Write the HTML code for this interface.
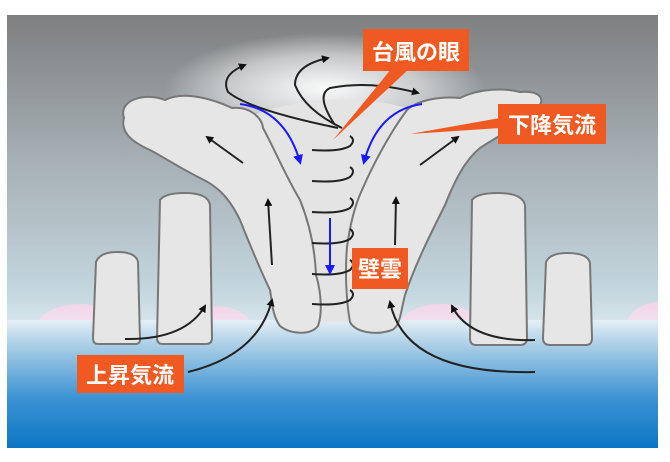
<!DOCTYPE html>
<html><head><meta charset="utf-8"><style>
html,body{margin:0;padding:0;background:#fff;width:670px;height:462px;overflow:hidden}
svg{display:block}
text{font-family:"Liberation Sans","Noto Sans CJK JP",sans-serif;fill:#fff;font-weight:bold}
</style></head><body>
<svg width="670" height="462" viewBox="0 0 670 462" xmlns="http://www.w3.org/2000/svg">
<defs>
<clipPath id="img"><rect x="7" y="15" width="651" height="433"/></clipPath>
<clipPath id="above"><rect x="0" y="0" width="670" height="322"/></clipPath>
<linearGradient id="sky" x1="0" y1="0" x2="0" y2="1">
<stop offset="0" stop-color="#7e7f80"/><stop offset="0.45" stop-color="#a4adb2"/><stop offset="0.9" stop-color="#c3d6dd"/><stop offset="1" stop-color="#d4e4ea"/>
</linearGradient>
<linearGradient id="sea" x1="0" y1="0" x2="0" y2="1">
<stop offset="0" stop-color="#e4eff6"/><stop offset="0.2" stop-color="#a9cde6"/><stop offset="0.6" stop-color="#3c93d3"/><stop offset="1" stop-color="#0a74c4"/>
</linearGradient>
<radialGradient id="glow" cx="0.5" cy="0.5" r="0.5">
<stop offset="0" stop-color="#fff" stop-opacity="0.95"/><stop offset="0.6" stop-color="#fff" stop-opacity="0.5"/><stop offset="1" stop-color="#fff" stop-opacity="0"/>
</radialGradient>
<linearGradient id="pink" x1="0" y1="0" x2="0" y2="1">
<stop offset="0" stop-color="#f3d6e8"/><stop offset="1" stop-color="#eef1f6"/>
</linearGradient>
<marker id="ah" markerWidth="8" markerHeight="8" refX="6" refY="4" orient="auto" markerUnits="userSpaceOnUse"><path d="M0,0 L8,4 L0,8 Z" fill="#111"/></marker>
<marker id="bh" markerWidth="10" markerHeight="10" refX="7" refY="5" orient="auto" markerUnits="userSpaceOnUse"><path d="M0,0 L10,5 L0,10 Z" fill="#1a1aff"/></marker>
</defs>
<g clip-path="url(#img)">
<rect x="7" y="15" width="652" height="305" fill="url(#sky)"/>
<g clip-path="url(#above)" fill="url(#pink)">
<ellipse cx="80" cy="330" rx="45" ry="26"/><ellipse cx="215" cy="330" rx="38" ry="24"/>
<ellipse cx="440" cy="330" rx="42" ry="26"/><ellipse cx="660" cy="330" rx="35" ry="28"/>
</g>
<rect x="7" y="320" width="652" height="130" fill="url(#sea)"/>
<ellipse cx="325" cy="88" rx="160" ry="55" fill="url(#glow)"/>
</g>
<path d="M245,118 Q330,85 415,110 Q365,180 350,250 L352,322 L318,322 Q310,250 300,200 Q275,150 245,118Z" fill="#e4e4e4"/>
<path d="M124,118 C118,100 145,92 165,100 C185,90 215,100 232,108 C250,106 262,118 263,128 C275,150 285,175 300,200 C310,225 315,250 316,275 C322,295 322,315 318,326 C310,336 290,334 280,326 C272,315 272,300 270,290 C258,265 248,240 240,220 C228,195 215,185 200,178 C180,168 165,158 150,150 C132,142 120,132 124,118Z" fill="#e6e6e6" stroke="#777" stroke-width="2"/>
<path d="M407,110 C418,100 440,96 460,98 C480,88 505,88 520,92 C540,90 548,100 535,110 C520,125 500,135 480,148 C465,160 455,180 445,205 C430,235 415,265 405,295 C400,315 400,326 392,330 C375,336 355,332 350,322 C346,300 345,270 347,247 C350,225 355,205 362,190 C375,160 392,130 407,110Z" fill="#e6e6e6" stroke="#777" stroke-width="2"/>
<g fill="#e6e6e6" stroke="#777" stroke-width="2">
<path d="M96,262 Q100,252 117,252 Q136,252 138,262 L140,340 Q140,344 135,344 L98,344 Q93,344 93,338 Z"/>
<path d="M160,200 Q165,193 185,193 Q208,193 210,205 L212,338 Q212,344 206,344 L163,344 Q157,344 157,338 Z"/>
<path d="M472,200 Q477,193 498,193 Q522,193 525,205 L527,338 Q527,345 520,345 L476,345 Q470,345 470,338 Z"/>
<path d="M546,262 Q550,253 567,253 Q588,253 590,263 L592,338 Q592,345 586,345 L550,345 Q543,345 543,338 Z"/>
</g>
<g fill="none" stroke="#222" stroke-width="2">
<path d="M312,150 Q340,152 350,146 Q356,140 350,136"/>
<path d="M312,181 Q340,183 350,177 Q356,171 350,167"/>
<path d="M312,212 Q340,214 350,208 Q356,202 350,198"/>
<path d="M312,243 Q340,245 350,239 Q356,233 350,229"/>
<path d="M312,274 Q340,276 350,270 Q356,264 350,260"/>
<path d="M312,304 Q340,306 350,300 Q356,294 350,290"/>
</g>
<g fill="none" stroke="#222" stroke-width="2" marker-end="url(#ah)">
<path d="M338,128 Q250,110 228,92 Q220,75 245,65"/>
<path d="M342,128 Q305,110 295,85 Q295,65 328,58"/>
<path d="M335,125 Q315,95 330,88 Q370,80 418,93"/>
<path d="M243,163 L207,137"/>
<path d="M420,165 L458,137"/>
<path d="M272,265 L268,200"/>
<path d="M395,245 L396,198"/>
<path d="M125,339 Q185,340 205,306"/>
<path d="M188,372 Q258,355 272,300"/>
<path d="M535,340 Q470,342 452,306"/>
<path d="M535,372 Q405,375 390,302"/>
</g>
<g fill="none" stroke="#1a1aff" stroke-width="2" marker-end="url(#bh)">
<path d="M240,104 Q285,110 300,162"/>
<path d="M422,104 Q378,110 364,162"/>
<path d="M330,218 L330,272"/>
</g>
<path d="M392,68 L410,68 L333,140 Z" fill="#f05a22"/>
<path d="M500,118 L500,128 L410,134 Z" fill="#f05a22"/>
<rect x="363" y="29" width="106" height="42" fill="#f05a22"/>
<text x="416" y="60" font-size="22" text-anchor="middle">台風の眼</text>
<rect x="498" y="104" width="108" height="40" fill="#f05a22"/>
<text x="552" y="133" font-size="22" text-anchor="middle">下降気流</text>
<rect x="352" y="248" width="56" height="41" fill="#f05a22"/>
<text x="380" y="277" font-size="22" text-anchor="middle">壁雲</text>
<rect x="77" y="355" width="107" height="38" fill="#f05a22"/>
<text x="130" y="383" font-size="22" text-anchor="middle">上昇気流</text>
</svg>
</body></html>
